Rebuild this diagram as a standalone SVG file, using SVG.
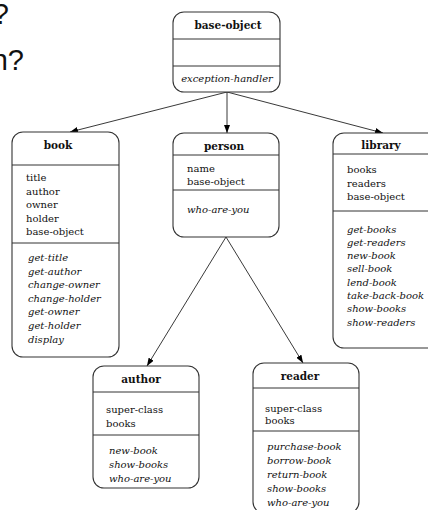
<svg xmlns="http://www.w3.org/2000/svg" width="428" height="510" viewBox="0 0 428 510">
<defs>
<marker id="ah" viewBox="0 0 8 6" refX="8" refY="3" markerWidth="8" markerHeight="6" markerUnits="userSpaceOnUse" orient="auto">
<path d="M0,0 L8,3 L0,6 z" fill="#000"/>
</marker>
<style>
.box{fill:#fff;stroke:#333;stroke-width:1.1}
.div{stroke:#333;stroke-width:1}
.t{font-family:"DejaVu Serif",serif;font-weight:bold;font-size:10.5px;fill:#111;text-anchor:middle}
.a{font-family:"DejaVu Serif",serif;font-size:10px;fill:#111}
.m{font-family:"DejaVu Serif",serif;font-style:italic;font-size:10px;fill:#111}
.c{stroke:#222;stroke-width:0.9;fill:none;marker-end:url(#ah)}
.q{font-family:"Liberation Sans",Arial,sans-serif;font-size:29px;fill:#111;text-anchor:end}
</style>
</defs>
<text class="q" x="9" y="24">?</text>
<text class="q" x="24" y="70">n?</text>
<g id="connectors">
<line class="c" x1="227" y1="92" x2="70" y2="132"/>
<line class="c" x1="227" y1="92" x2="227" y2="133"/>
<line class="c" x1="227" y1="92" x2="383" y2="133"/>
<line class="c" x1="226" y1="237" x2="147" y2="366"/>
<line class="c" x1="226" y1="237" x2="303" y2="363"/>
</g>
<g id="base-object">
<rect class="box" x="173" y="12" width="107" height="80" rx="11"/>
<line class="div" x1="173" y1="39" x2="280" y2="39"/>
<line class="div" x1="173" y1="66" x2="280" y2="66"/>
<text class="t" x="228" y="29">base-object</text>
<text class="m" x="227" y="82" text-anchor="middle">exception-handler</text>
</g>
<g id="book">
<rect class="box" x="12" y="132" width="107" height="225" rx="11"/>
<line class="div" x1="12" y1="165" x2="119" y2="165"/>
<line class="div" x1="12" y1="243" x2="119" y2="243"/>
<text class="t" x="58" y="149">book</text>
<text class="a" x="26" y="181">title</text>
<text class="a" x="26" y="194.5">author</text>
<text class="a" x="26" y="208">owner</text>
<text class="a" x="26" y="221.5">holder</text>
<text class="a" x="26" y="235">base-object</text>
<text class="m" x="28" y="261">get-title</text>
<text class="m" x="28" y="274.6">get-author</text>
<text class="m" x="28" y="288.2">change-owner</text>
<text class="m" x="28" y="301.8">change-holder</text>
<text class="m" x="28" y="315.4">get-owner</text>
<text class="m" x="28" y="329">get-holder</text>
<text class="m" x="28" y="342.6">display</text>
</g>
<g id="person">
<rect class="box" x="173" y="133" width="106" height="104" rx="11"/>
<line class="div" x1="173" y1="155" x2="279" y2="155"/>
<line class="div" x1="173" y1="190" x2="279" y2="190"/>
<text class="t" x="224" y="150">person</text>
<text class="a" x="187" y="172">name</text>
<text class="a" x="187" y="185">base-object</text>
<text class="m" x="187" y="213">who-are-you</text>
</g>
<g id="library">
<rect class="box" x="333" y="133" width="110" height="215" rx="11"/>
<line class="div" x1="333" y1="154" x2="443" y2="154"/>
<line class="div" x1="333" y1="211" x2="443" y2="211"/>
<text class="t" x="381" y="149">library</text>
<text class="a" x="347" y="173">books</text>
<text class="a" x="347" y="186.5">readers</text>
<text class="a" x="347" y="200">base-object</text>
<text class="m" x="347" y="232.5">get-books</text>
<text class="m" x="347" y="245.8">get-readers</text>
<text class="m" x="347" y="259.1">new-book</text>
<text class="m" x="347" y="272.4">sell-book</text>
<text class="m" x="347" y="285.7">lend-book</text>
<text class="m" x="347" y="299">take-back-book</text>
<text class="m" x="347" y="312.3">show-books</text>
<text class="m" x="347" y="325.6">show-readers</text>
</g>
<g id="author">
<rect class="box" x="93" y="366" width="106" height="122" rx="11"/>
<line class="div" x1="93" y1="392" x2="199" y2="392"/>
<line class="div" x1="93" y1="435" x2="199" y2="435"/>
<text class="t" x="141" y="383">author</text>
<text class="a" x="106" y="413">super-class</text>
<text class="a" x="106" y="426.5">books</text>
<text class="m" x="109" y="453.5">new-book</text>
<text class="m" x="109" y="467.5">show-books</text>
<text class="m" x="109" y="481.5">who-are-you</text>
</g>
<g id="reader">
<rect class="box" x="253" y="363" width="106" height="150" rx="11"/>
<line class="div" x1="253" y1="388" x2="359" y2="388"/>
<line class="div" x1="253" y1="431" x2="359" y2="431"/>
<text class="t" x="300" y="380">reader</text>
<text class="a" x="265" y="411.5">super-class</text>
<text class="a" x="265" y="424">books</text>
<text class="m" x="267" y="449.5">purchase-book</text>
<text class="m" x="267" y="463.5">borrow-book</text>
<text class="m" x="267" y="477.5">return-book</text>
<text class="m" x="267" y="491.5">show-books</text>
<text class="m" x="267" y="505.5">who-are-you</text>
</g>
</svg>
